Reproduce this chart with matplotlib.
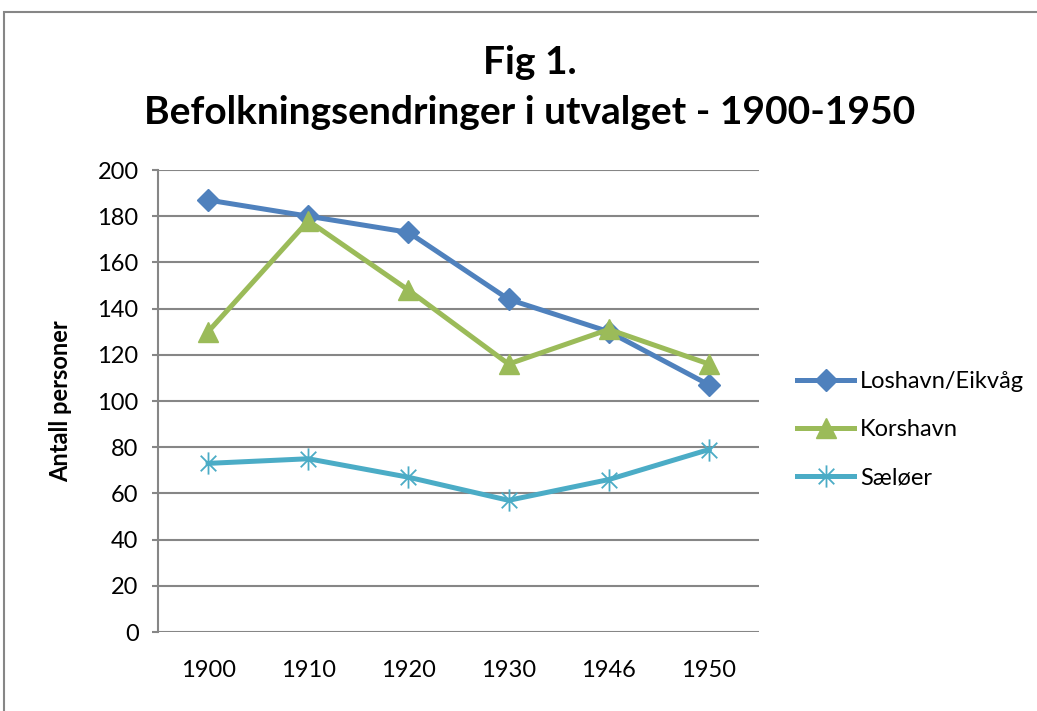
import matplotlib.pyplot as plt
from matplotlib.path import Path
from matplotlib.patches import Rectangle

plt.rcParams["font.family"] = ["Lato", "DejaVu Sans"]

years = ["1900", "1910", "1920", "1930", "1946", "1950"]
loshavn = [187, 180, 173, 144, 130, 107]
korshavn = [130, 178, 148, 116, 131, 116]
saeloer = [73, 75, 67, 57, 66, 79]

# Excel-style asterisk: X plus vertical bar
star = Path(
    [(-0.7, -0.7), (0.7, 0.7), (-0.7, 0.7), (0.7, -0.7), (0, -1), (0, 1)],
    [Path.MOVETO, Path.LINETO, Path.MOVETO, Path.LINETO, Path.MOVETO, Path.LINETO],
)

fig = plt.figure(figsize=(10.37, 7.11), dpi=100)
ax = fig.add_axes([0.1524, 0.1111, 0.5796, 0.6498])

# outer chart border
fig.patches.append(Rectangle((4 / 1037, -0.05), 1.1, 0.05 + (711 - 12) / 711,
                             transform=fig.transFigure, fill=False,
                             edgecolor="#868686", linewidth=1.5))

x = range(len(years))
ax.plot(x, loshavn, color="#4F81BD", lw=3.6, marker="D", ms=11,
        label="Loshavn/Eikvåg", zorder=3)
ax.plot(x, korshavn, color="#9BBB59", lw=3.6, marker="^", ms=14,
        label="Korshavn", zorder=3)
ax.plot(x, saeloer, color="#4BACC6", lw=3.6, marker=star, ms=16, mew=1.3,
        label="Sæløer", zorder=3)

ax.set_xlim(-0.5, 5.5)
ax.set_ylim(0, 200)
ax.set_yticks(range(0, 201, 20))
ax.set_xticks(list(x))
ax.set_xticklabels(years)
ax.grid(axis="y", color="#868686", lw=1.5)
ax.set_axisbelow(True)
for s in ["top", "right", "bottom"]:
    ax.spines[s].set_visible(False)
ax.spines["left"].set_color("#868686")
ax.spines["left"].set_linewidth(1.5)
ax.tick_params(axis="y", colors="#868686", labelcolor="black", length=4,
               width=1.5, labelsize=17, pad=10)
ax.tick_params(axis="x", length=0, labelsize=17, pad=20)

ax.set_ylabel("Antall personer", fontsize=17, fontweight="bold", labelpad=18)

fig.text(0.511, 0.912, "Fig 1.", ha="center", va="center",
         fontsize=28, fontweight="bold")
fig.text(0.511, 0.842, "Befolkningsendringer i utvalget - 1900-1950",
         ha="center", va="center", fontsize=28, fontweight="bold")

leg = ax.legend(loc="center left", frameon=False, fontsize=17,
                handlelength=2.4, labelspacing=1.15, handletextpad=0.25)
leg.set_bbox_to_anchor((776 / 1037, 1 - 430 / 711), transform=fig.transFigure)

fig.savefig("out.png", dpi=100)
